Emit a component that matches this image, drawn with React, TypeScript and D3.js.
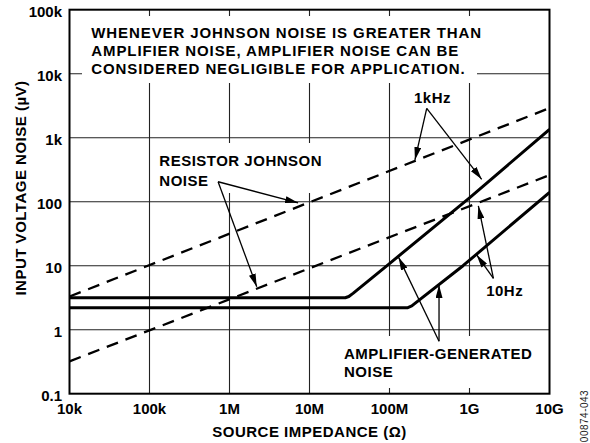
import * as d3 from "d3";

const COLORS = {
  ink: "#000000",
  grid: "#222222",
  paper: "#ffffff",
};

const FONT = "'Liberation Sans', Arial, Helvetica, sans-serif";

// axis ticks
const xTicks = [1e4, 1e5, 1e6, 1e7, 1e8, 1e9, 1e10];
const xTickLabels = ["10k", "100k", "1M", "10M", "100M", "1G", "10G"];
const yTicks = [0.1, 1, 10, 100, 1e3, 1e4, 1e5];
const yTickLabels = ["0.1", "1", "10", "100", "1k", "10k", "100k"];

// resistor johnson noise (dashed)
const johnson1kR = [1e4, 1e10];
const johnson1kV = [3.3, 2900];
const johnson10R = [1e4, 1e10];
const johnson10V = [0.32, 260];

// amplifier generated noise (solid)
const amp1kR = [1e4, 2.8e7, 3.1e7, 3.5e7, 1e8, 1e9, 1e10];
const amp1kV = [3.16, 3.16, 3.3, 3.7, 10.8, 115, 1350];
const amp10R = [1e4, 1.67e8, 1.9e8, 2.1e8, 8.3e8, 1e10];
const amp10V = [2.2, 2.2, 2.35, 2.6, 10, 140];

// arrows: [fromR, fromV, toR, toV]
const arrows: [number, number, number, number][] = [
  [7.2e5, 205, 7.2e6, 96],
  [7.2e5, 205, 2.19e6, 4.7],
  [2.92e8, 2875, 2.08e8, 449],
  [2.92e8, 2875, 1.42e9, 224],
  [1.99e9, 6.36, 1.29e9, 85.7],
  [1.99e9, 6.36, 1.23e9, 14.7],
  [4.16e8, 0.66, 1.3e8, 13.5],
  [4.16e8, 0.66, 4.16e8, 5.0],
];

const W = 590;
const H = 443;
const margin = { left: 69.5, right: 549.5, top: 9.7, bottom: 393.7 };

const x = d3.scaleLog().domain([1e4, 1e10]).range([margin.left, margin.right]);
const y = d3.scaleLog().domain([0.1, 1e5]).range([margin.bottom, margin.top]);

function pathOf(rs: number[], vs: number[]) {
  const pts = rs.map((r, i) => [r, vs[i]] as [number, number]);
  return d3
    .line<[number, number]>()
    .x((d) => x(d[0]))
    .y((d) => y(d[1]))(pts) as string;
}

const textStyle = {
  fontFamily: FONT,
  fontWeight: 700,
  fontSize: 15,
  fill: COLORS.ink,
};

export default function App() {
  const pw = margin.right - margin.left;
  const ph = margin.bottom - margin.top;
  return (
    <svg
      width={W}
      height={H}
      viewBox={`0 0 ${W} ${H}`}
      style={{ position: "absolute", left: 0, top: 0, background: COLORS.paper }}
    >
      <defs>
        <clipPath id="plot">
          <rect x={margin.left} y={margin.top} width={pw} height={ph} />
        </clipPath>
        <marker
          id="ah"
          viewBox="0 0 13 7"
          refX={13}
          refY={3.5}
          markerWidth={13}
          markerHeight={7}
          markerUnits="userSpaceOnUse"
          orient="auto"
        >
          <path d="M0,0L13,3.5L0,7z" fill={COLORS.ink} />
        </marker>
      </defs>

      <rect x={0} y={0} width={W} height={H} fill={COLORS.paper} />

      {/* grid */}
      <g stroke={COLORS.grid} strokeWidth={1.1}>
        {xTicks.slice(1, -1).map((t) => (
          <line key={"gx" + t} x1={x(t)} x2={x(t)} y1={margin.top} y2={margin.bottom} />
        ))}
        {yTicks.slice(1, -1).map((t) => (
          <line key={"gy" + t} x1={margin.left} x2={margin.right} y1={y(t)} y2={y(t)} />
        ))}
      </g>

      {/* white boxes behind the notes */}
      <g fill={COLORS.paper}>
        <rect x={82} y={16} width={395} height={67} />
        <rect x={155} y={143} width={170} height={50} />
        <rect x={338} y={336} width={205} height={52} />
      </g>

      {/* curves */}
      <g clipPath="url(#plot)" fill="none" stroke={COLORS.ink}>
        <path d={pathOf(johnson1kR, johnson1kV)} strokeWidth={2.3} strokeDasharray="12,8" />
        <path d={pathOf(johnson10R, johnson10V)} strokeWidth={2.3} strokeDasharray="12,8" />
        <path d={pathOf(amp1kR, amp1kV)} strokeWidth={3} strokeLinejoin="round" />
        <path d={pathOf(amp10R, amp10V)} strokeWidth={3} strokeLinejoin="round" />
      </g>

      {/* frame */}
      <rect
        x={margin.left}
        y={margin.top}
        width={pw}
        height={ph}
        fill="none"
        stroke={COLORS.ink}
        strokeWidth={2}
      />

      {/* tick labels */}
      {yTicks.map((t, i) => (
        <text key={"yl" + t} x={62} y={y(t) + 6.8} textAnchor="end" style={textStyle}>
          {yTickLabels[i]}
        </text>
      ))}
      {xTicks.map((t, i) => (
        <text key={"xl" + t} x={x(t)} y={413.5} textAnchor="middle" style={textStyle}>
          {xTickLabels[i]}
        </text>
      ))}

      {/* axis titles */}
      <text
        x={(margin.left + margin.right) / 2}
        y={437}
        textAnchor="middle"
        style={{ ...textStyle, letterSpacing: 0.5 }}
      >
        SOURCE IMPEDANCE (Ω)
      </text>
      <text
        transform="translate(26,188) rotate(-90)"
        textAnchor="middle"
        style={{ ...textStyle, letterSpacing: 0.5 }}
      >
        INPUT VOLTAGE NOISE (µV)
      </text>

      {/* notes */}
      <g style={{ ...textStyle, letterSpacing: 0.9 }}>
        <text x={91.3} y={38.3}>WHENEVER JOHNSON NOISE IS GREATER THAN</text>
        <text x={91.3} y={56}>AMPLIFIER NOISE, AMPLIFIER NOISE CAN BE</text>
        <text x={91.3} y={73.7}>CONSIDERED NEGLIGIBLE FOR APPLICATION.</text>
      </g>
      <g style={{ ...textStyle, letterSpacing: 0.5 }}>
        <text x={159.3} y={166}>RESISTOR JOHNSON</text>
        <text x={159.3} y={185.7}>NOISE</text>
        <text x={344} y={359.3}>AMPLIFIER-GENERATED</text>
        <text x={344} y={376.7}>NOISE</text>
        <text x={432.5} y={102.7} textAnchor="middle">1kHz</text>
        <text x={504.7} y={296} textAnchor="middle">10Hz</text>
      </g>

      {/* arrows */}
      <g stroke={COLORS.ink} strokeWidth={1.3} fill="none">
        {arrows.map((a, i) => (
          <line
            key={"ar" + i}
            x1={x(a[0])}
            y1={y(a[1])}
            x2={x(a[2])}
            y2={y(a[3])}
            markerEnd="url(#ah)"
          />
        ))}
      </g>

      {/* figure id */}
      <text
        transform="translate(588,416) rotate(-90)"
        textAnchor="middle"
        style={{ fontFamily: FONT, fontSize: 10, fill: "#222", letterSpacing: 0.5 }}
      >
        00874-043
      </text>
    </svg>
  );
}
